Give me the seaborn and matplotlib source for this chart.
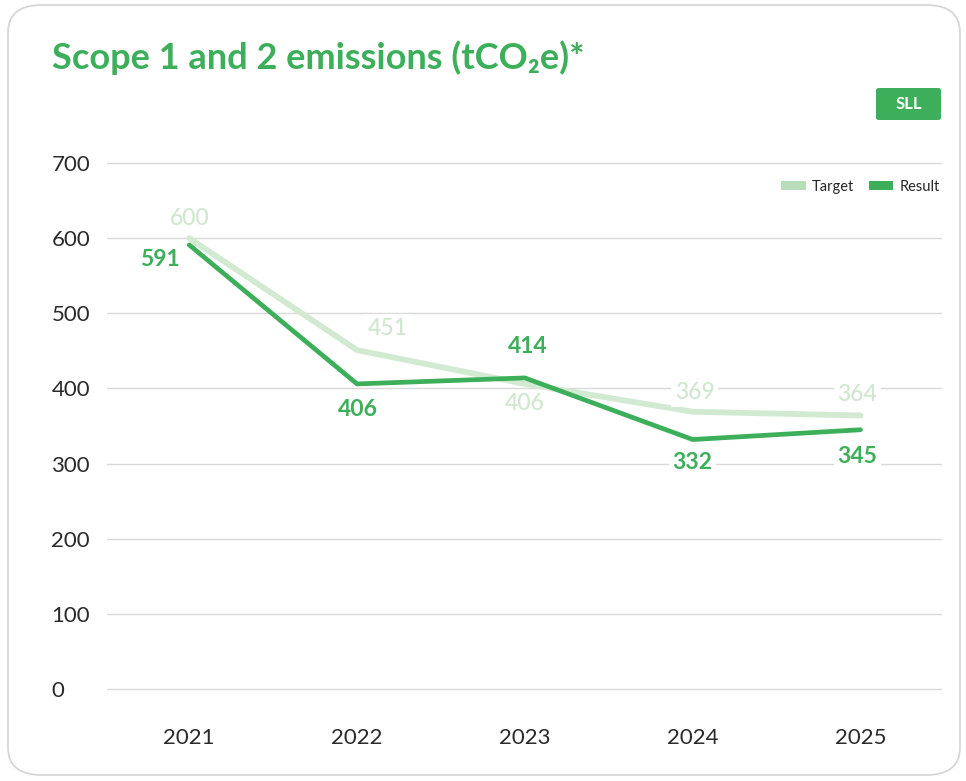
import matplotlib
matplotlib.use("Agg")
import matplotlib.pyplot as plt
import seaborn as sns
import pandas as pd
from matplotlib.patches import FancyBboxPatch, Patch

years = ["2021", "2022", "2023", "2024", "2025"]
target = [600, 451, 406, 369, 364]
result = [591, 406, 414, 332, 345]
yticks = [0, 100, 200, 300, 400, 500, 600, 700]

GREEN = "#3daf5a"
LIGHT = "#d3ead2"
LIGHT_TXT = "#cfe7cf"
GRID = "#d9d9d9"

sns.set_theme(style="white")
plt.rcParams["font.family"] = ["Lato", "DejaVu Sans"]

df = pd.DataFrame({
    "year": years * 2,
    "value": target + result,
    "series": ["Target"] * len(years) + ["Result"] * len(years),
})
df["x"] = list(range(len(years))) * 2

fig = plt.figure(figsize=(9.66, 7.81), dpi=100)
fig.patch.set_facecolor("white")

card = FancyBboxPatch((8 / 966, 6 / 781), 952 / 966, 770 / 781,
                      boxstyle="round,pad=0,rounding_size=0.035",
                      transform=fig.transFigure, facecolor="white",
                      edgecolor="#d4d4d4", linewidth=1.2, zorder=-5)
fig.patches.append(card)

ax = fig.add_axes([107 / 966, 1 - 689 / 781, (941 - 107) / 966, (689 - 163) / 781])
ax.set_facecolor("none")
ax.set_zorder(2)

sns.lineplot(data=df[df.series == "Target"], x="x", y="value", color=LIGHT,
             linewidth=4.2, ax=ax, legend=False, solid_capstyle="round", zorder=2)
sns.lineplot(data=df[df.series == "Result"], x="x", y="value", color=GREEN,
             linewidth=3.4, ax=ax, legend=False, solid_capstyle="round", zorder=3)

ax.set_xlim(-0.49, 4.48)
ax.set_ylim(0, 700)
ax.set_yticks(yticks)
ax.set_yticklabels([str(v) for v in yticks], ha="left", fontsize=16,
                   fontweight="normal", color="#2a2a2a")
ax.set_xticks(range(len(years)))
ax.set_xticklabels(years, fontsize=16, fontweight="normal", color="#2a2a2a")
ax.tick_params(axis="y", length=0, pad=40)
ax.tick_params(axis="x", length=0, pad=28)
ax.grid(axis="y", color=GRID, linewidth=1)
for gl in ax.get_ygridlines():
    gl.set_clip_on(False)
ax.set_axisbelow(True)
for s in ax.spines.values():
    s.set_visible(False)
ax.set_xlabel("")
ax.set_ylabel("")

t_off = [(1, 20), (31, 22), (0, -20), (2, 19), (-3, 21)]
r_off = [(-29, -15), (1, -26), (3, 31), (0, -23), (-3, -27)]
for i, v in enumerate(target):
    ax.annotate(str(v), (i, v), xytext=t_off[i], textcoords="offset pixels",
                ha="center", va="center", fontsize=16.5, color=LIGHT_TXT,
                fontweight="medium", zorder=4,
                bbox=dict(boxstyle="square,pad=0.15", fc="white", ec="none"))
for i, v in enumerate(result):
    ax.annotate(str(v), (i, v), xytext=r_off[i], textcoords="offset pixels",
                ha="center", va="center", fontsize=16.5, color=GREEN,
                fontweight="bold", zorder=5,
                bbox=dict(boxstyle="square,pad=0.15", fc="white", ec="none"))

handles = [Patch(facecolor="#b9ddb9", edgecolor="none", label="Target"),
           Patch(facecolor=GREEN, edgecolor="none", label="Result")]
ax.legend(handles=handles, loc="upper right", bbox_to_anchor=(1.014, 0.993),
          ncol=2, frameon=False, fontsize=10.5, handlelength=1.7,
          handleheight=0.6, handletextpad=0.4, columnspacing=1.0)

fig.text(52 / 966, 1 - 58 / 781, "Scope 1 and 2 emissions (tCO₂e)*",
         fontsize=26, fontweight="bold", color=GREEN, va="center", ha="left")

badge = FancyBboxPatch((876 / 966, 1 - 120 / 781), 65 / 966, 32 / 781,
                       boxstyle="round,pad=0,rounding_size=0.003",
                       transform=fig.transFigure, facecolor=GREEN,
                       edgecolor="none", zorder=2)
fig.patches.append(badge)
fig.text(908.5 / 966, 1 - 104 / 781, "SLL", fontsize=12, fontweight="bold",
         color="white", ha="center", va="center")

fig.savefig("out.png", dpi=100, facecolor="white")
